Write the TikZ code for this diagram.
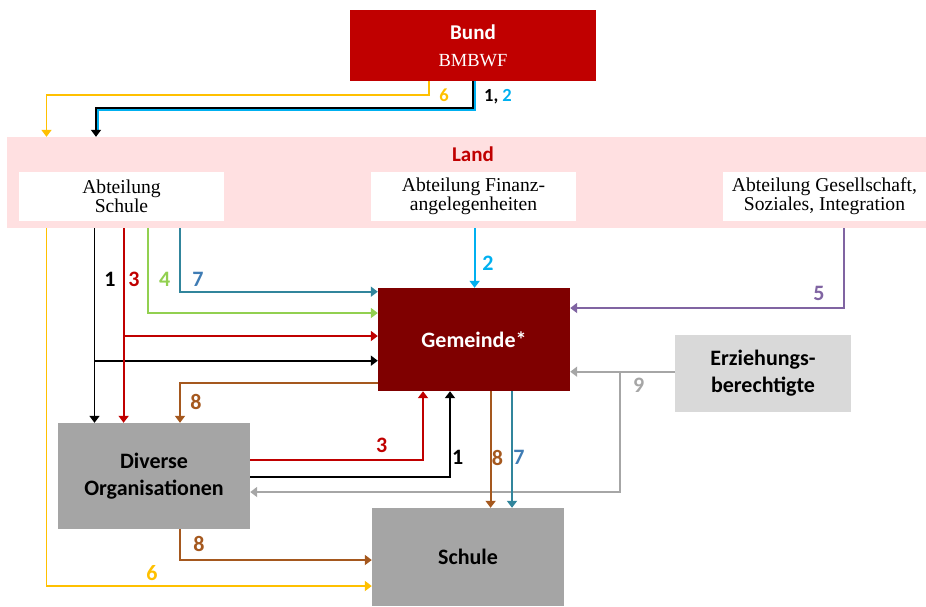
\documentclass[tikz,border=0pt]{standalone}
\usepackage{fontspec}
\setmainfont{Liberation Serif}
\setsansfont{Carlito}
\usetikzlibrary{arrows.meta}
\definecolor{bundred}{HTML}{C00000}
\definecolor{landpink}{HTML}{FFE0E1}
\definecolor{gemred}{HTML}{7F0000}
\definecolor{boxgray}{HTML}{A5A5A5}
\definecolor{erzgray}{HTML}{D9D9D9}
\definecolor{cyel}{HTML}{FFC000}
\definecolor{cblue}{HTML}{00B0F0}
\definecolor{cred}{HTML}{C00000}
\definecolor{cgreen}{HTML}{92D050}
\definecolor{cteal}{HTML}{31859C}
\definecolor{csteel}{HTML}{3F7CB4}
\definecolor{cpurple}{HTML}{8064A2}
\definecolor{cbrown}{HTML}{A5581E}
\definecolor{cgray}{HTML}{A6A6A6}
\begin{document}
\begin{tikzpicture}[x=1pt,y=-1pt,
  con/.style={line width=1.8pt,-{Triangle[width=10pt,length=7pt]}},
  plainline/.style={line width=1.8pt},
  lbl/.style={font=\sffamily\bfseries\fontsize{22}{26}\selectfont, inner sep=0pt},
  toplbl/.style={font=\sffamily\bfseries\fontsize{18.5}{22}\selectfont, inner sep=0pt, anchor=base},
  bigbox/.style={draw=none, inner sep=0pt, align=center, font=\sffamily\bfseries\fontsize{22}{27}\selectfont},
  abtbox/.style={fill=white, draw=none, inner sep=0pt, align=center, minimum height=49pt, font=\fontsize{19.6}{19}\selectfont}
]
\useasboundingbox (0,0) rectangle (926,606);

% Nodes
\node[fill=landpink, inner sep=0pt, minimum width=919pt, minimum height=91pt] (land) at (466.5,182.5) {};
\node[font=\sffamily\bfseries\fontsize{21}{25}\selectfont, text=bundred, inner sep=0pt, anchor=base] (landlabel) at (473,161.5) {Land};
\node[bigbox, fill=bundred, text=white, minimum width=246pt, minimum height=71pt, font=\fontsize{21}{26.7}\selectfont] (bund) at (473,45.5)
  {{\sffamily\bfseries Bund}\\{\rmfamily\fontsize{18.5}{22}\selectfont BMBWF}};
\node[abtbox, minimum width=205pt] (abtschule) at (121.5,196.5) {Abteilung\\Schule};
\node[abtbox, minimum width=205pt] (abtfin) at (473.5,196.5) {Abteilung Finanz-\\angelegenheiten};
\node[abtbox, minimum width=203pt] (abtges) at (824.5,196.5) {Abteilung Gesellschaft,\\Soziales, Integration};
\node[bigbox, fill=gemred, text=white, minimum width=192pt, minimum height=103pt] (gemeinde) at (474,339.5) {Gemeinde*};
\node[bigbox, fill=erzgray, text=black, minimum width=176pt, minimum height=77pt] (erz) at (763,373.5) {Erziehungs-\\berechtigte};
\node[bigbox, fill=boxgray, text=black, minimum width=192pt, minimum height=106pt] (diverse) at (154,476) {Diverse\\Organisationen};
\node[bigbox, fill=boxgray, text=black, minimum width=192pt, minimum height=98pt] (schule) at (468,557) {Schule};

% Bund -> Land
\draw[con, cyel] ([xshift=-44pt]bund.south) |- (46.5,95) -- (46.5,0 |- land.north);
\draw[plainline, cblue] ([xshift=2.2pt]bund.south) |- (98.2,110) -- (98.2,131);
\draw[con, black] (bund.south) |- (96,108) -- (96,0 |- land.north);
\node[toplbl, text=cyel] (l6a) at (444,101.7) {6};
\node[toplbl] (l12) at (498,101.7) {\textcolor{black}{1,} \textcolor{cblue}{2}};

% Abteilung Schule -> Diverse / Gemeinde
\draw[con, black] (94.5,0 |- land.south) -- (94.5,0 |- diverse.north);
\draw[con, black] (94.5,360.7) -- (gemeinde.west |- 0,360.7);
\draw[con, cred] (123.6,0 |- land.south) -- (123.6,0 |- diverse.north);
\draw[con, cred] (123.6,336) -- (gemeinde.west |- 0,336);
\draw[con, cgreen] (148,0 |- land.south) |- (gemeinde.west |- 0,313);
\draw[con, cteal] (180,0 |- land.south) |- (gemeinde.west |- 0,291.7);
\node[lbl, text=black] (l1a) at (110,279) {1};
\node[lbl, text=cred] (l3a) at (134,279) {3};
\node[lbl, text=cgreen] (l4) at (164.6,279) {4};
\node[lbl, text=csteel] (l7a) at (198,279) {7};

% Finanz -> Gemeinde
\draw[con, cblue] (474.6,0 |- land.south) -- (474.6,0 |- gemeinde.north);
\node[lbl, text=cblue] (l2) at (488,263.5) {2};

% Gesellschaft -> Gemeinde
\draw[con, cpurple] (844,0 |- land.south) |- (gemeinde.east |- 0,308);
\node[lbl, text=cpurple] (l5) at (819,293) {5};

% Erziehungsberechtigte -> Gemeinde / Diverse
\draw[con, cgray] (erz.west |- 0,371.7) -- (gemeinde.east |- 0,371.7);
\draw[con, cgray] (620,371.7) |- (diverse.east |- 0,492);
\node[lbl, text=cgray] (l9) at (638.7,385.7) {9};

% Gemeinde -> Diverse (8)
\draw[con, cbrown] (gemeinde.west |- 0,383) -| (180,0 |- diverse.north);
\node[lbl, text=cbrown] (l8a) at (196,401.7) {8};

% Diverse -> Gemeinde
\draw[con, cred] (diverse.east |- 0,460) -| (423,0 |- gemeinde.south);
\draw[con, black] (diverse.east |- 0,476.7) -| (450,0 |- gemeinde.south);
\node[lbl, text=cred] (l3b) at (381.6,445.5) {3};
\node[lbl, text=black] (l1b) at (457.7,457.5) {1};

% Gemeinde -> Schule
\draw[con, cbrown] (490.6,0 |- gemeinde.south) -- (490.6,0 |- schule.north);
\draw[con, cteal] (512,0 |- gemeinde.south) -- (512,0 |- schule.north);
\node[lbl, text=cbrown] (l8b) at (497.5,457.5) {8};
\node[lbl, text=csteel] (l7b) at (519,457.5) {7};

% Diverse -> Schule (8)
\draw[con, cbrown] (180,0 |- diverse.south) |- (schule.west |- 0,560);
\node[lbl, text=cbrown] (l8c) at (199,543.7) {8};

% Land -> Schule (6)
\draw[con, cyel] (46.5,0 |- land.south) |- (schule.west |- 0,586);
\node[lbl, text=cyel] (l6b) at (152,573) {6};
\end{tikzpicture}
\end{document}
